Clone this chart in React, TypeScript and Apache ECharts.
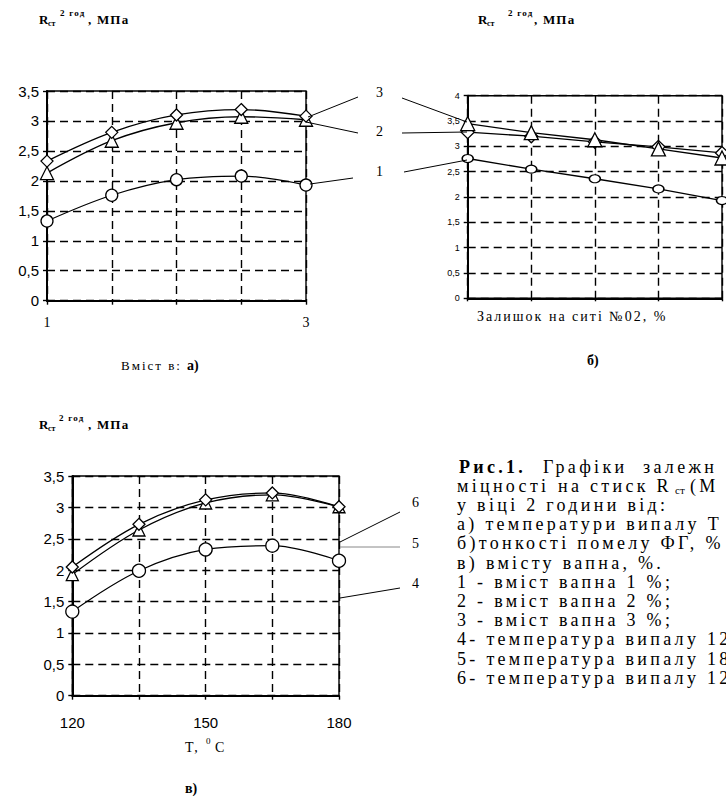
import React, { useEffect, useRef } from 'react';
import * as echarts from 'echarts';

// ---- Chart а) : lime content
const limeContent = [1, 1.5, 2, 2.5, 3];
const limeTickLabels = ['1', '3'];
const aCircle = [1.33, 1.76, 2.02, 2.08, 1.93];
const aTriangle = [2.13, 2.67, 2.97, 3.07, 3.02];
const aDiamond = [2.33, 2.81, 3.1, 3.19, 3.08];

// ---- Chart б) : residue on sieve
const sievePoints = [1, 2, 3, 4, 5];
const bCircle = [2.76, 2.55, 2.36, 2.16, 1.93];
const bDiamond = [3.28, 3.2, 3.09, 2.99, 2.87];
const bTriangle = [3.45, 3.27, 3.13, 2.95, 2.77];

// ---- Chart в) : firing temperature
const temperature = [120, 135, 150, 165, 180];
const tempTickLabels = ['120', '150', '180'];
const vCircle = [1.34, 1.99, 2.33, 2.39, 2.15];
const vTriangle = [1.93, 2.64, 3.07, 3.2, 3.01];
const vDiamond = [2.05, 2.73, 3.12, 3.23, 3.01];

const curveLabels = ['3', '2', '1'];
const tempCurveLabels = ['6', '5', '4'];

const captionLines = [
  'у віці 2 години від:',
  'а) температури випалу Т',
  'б)тонкості помелу ФГ, %',
  'в) вмісту вапна, %.',
  '1 - вміст вапна 1 %;',
  '2 - вміст вапна 2 %;',
  '3 - вміст вапна 3 %;',
  '4- температура випалу 12',
  '5- температура випалу 18',
  '6- температура випалу 12',
];

// "spc*" are never-installed fallback names, used only to tag texts for CSS letter-spacing
const SERIF = '"Liberation Serif"';
const CAP = '"Liberation Serif", spcA';
const AXT = '"Liberation Serif", spcB';
const TTL = '"Liberation Serif", spcC';
const SANS = '"Liberation Sans"';

const dash = { color: '#000', type: [8, 5] as any, width: 1.4 };

function T(x: number, y: number, text: string, font: string, extra: any = {}) {
  return {
    type: 'text', x, y, silent: true, z: 100,
    style: { text, font, fill: '#000', textAlign: 'left', textVerticalAlign: 'middle', ...extra },
  };
}
function L(x1: number, y1: number, x2: number, y2: number, color = '#000') {
  return { type: 'line', silent: true, z: 100, shape: { x1, y1, x2, y2 }, style: { stroke: color, lineWidth: 1 } };
}
function title(x: number, y: number, supOff: number, mpaOff: number) {
  return [
    T(x, y, 'R', `bold 13px ${SERIF}`),
    T(x + 9, y + 4, 'ст', `bold 8px ${SERIF}`),
    T(x + supOff, y - 6, '2 год', `bold 9px ${TTL}`),
    T(x + mpaOff, y, ', МПа', `bold 13px ${TTL}`),
  ];
}

function yAxis(gridIndex: number, max: number, fontSize: number) {
  return {
    gridIndex, type: 'value', min: 0, max, interval: 0.5,
    axisLine: { show: true, onZero: false, lineStyle: { color: '#000', width: 2 } },
    axisTick: { show: true, length: 4, lineStyle: { color: '#000', width: 1.4 } },
    axisLabel: {
      color: '#000', fontFamily: SANS, fontSize, margin: 8,
      formatter: (v: number) => String(v).replace('.', ','),
    },
    splitLine: { show: true, lineStyle: dash },
  };
}

function series(idx: number, xs: number[], ys: number[], symbol: string, size: any, smooth: any) {
  return {
    type: 'line', xAxisIndex: idx, yAxisIndex: idx,
    data: xs.map((x, i) => [x, ys[i]]),
    symbol, symbolSize: size, smooth, showSymbol: true,
    lineStyle: { color: '#000', width: 1.3 },
    itemStyle: { color: '#fff', borderColor: '#000', borderWidth: 1.3 },
    emphasis: { disabled: true },
  };
}

function buildOption() {
  const gridBase = { show: true, borderColor: '#000', borderWidth: 1.4, containLabel: false, outerBoundsMode: 'none' };
  const graphics: any[] = [
    ...title(39, 19, 21, 49),
    ...title(478, 19, 30, 56),
    ...title(39, 424, 20, 49),
    // shared curve numbers between charts а and б
    ...curveLabels.map((s, i) => T(376, [92, 131, 171][i], s, `14px ${SERIF}`)),
    L(358, 97, 308, 117), L(306, 122, 358, 133), L(310, 184, 353, 178),
    L(402, 98, 467, 122), L(402, 133, 467, 132), L(404, 172, 467, 160),
    T(121, 365, 'Вміст в:', `13px ${AXT}`),
    T(187, 365, 'а)', `bold 14px ${SERIF}`),
    T(477, 316, 'Залишок на ситі №02, %', `14px ${AXT}`),
    T(587, 360, 'б)', `bold 14px ${SERIF}`),
    // chart в curve numbers
    ...tempCurveLabels.map((s, i) => T(412, [502, 543, 583][i], s, `14px ${SERIF}`)),
    L(400, 512, 340, 542), L(340, 547, 400, 547, '#888'), L(400, 588, 340, 598),
    T(185, 747, 'Т,', `14px ${AXT}`),
    T(206, 741, '0', `9px ${SERIF}`),
    T(215, 747, 'С', `14px ${SERIF}`),
    T(185, 788, 'в)', `bold 14px ${SERIF}`),
    // caption
    T(459, 467, 'Рис.1.', `bold 18px ${CAP}`),
    T(543, 467, 'Графіки', `18px ${CAP}`),
    T(643, 467, 'залежн', `18px ${CAP}`),
    T(457, 486, 'міцності', `18px ${CAP}`),
    T(558, 486, 'на стиск R', `18px ${CAP}`),
    T(675, 490, 'ст', `11px ${SERIF}`),
    T(690, 486, '(М', `18px ${CAP}`),
    ...captionLines.map((s, i) => T(457, 505 + i * 19.2, s, `18px ${CAP}`)),
  ];

  return {
    animation: false,
    backgroundColor: '#fff',
    grid: [
      { ...gridBase, left: 47, top: 91, width: 259, height: 209.7 },
      { ...gridBase, left: 467.7, top: 95.7, width: 254.3, height: 202.6 },
      { ...gridBase, left: 72.3, top: 476, width: 266.7, height: 219.7 },
    ],
    xAxis: [
      {
        gridIndex: 0, type: 'value', min: 1, max: 3, interval: 0.5,
        axisLine: { show: true, onZero: false, lineStyle: { color: '#000', width: 2 } },
        axisTick: { show: true, length: 4, lineStyle: { color: '#000', width: 1.4 } },
        axisLabel: {
          color: '#000', fontFamily: SERIF, fontSize: 14, margin: 15,
          formatter: (v: number) => (v === limeContent[0] ? limeTickLabels[0] : v === limeContent[4] ? limeTickLabels[1] : ''),
        },
        splitLine: { show: true, lineStyle: dash },
      },
      {
        gridIndex: 1, type: 'value', min: 1, max: 5, interval: 1,
        axisLine: { show: true, onZero: false, lineStyle: { color: '#000', width: 2 } },
        axisTick: { show: true, length: 3, lineStyle: { color: '#000', width: 1.4 } },
        axisLabel: { show: false },
        splitLine: { show: true, lineStyle: dash },
      },
      {
        gridIndex: 2, type: 'value', min: 120, max: 180, interval: 15,
        axisLine: { show: true, onZero: false, lineStyle: { color: '#000', width: 2 } },
        axisTick: { show: true, length: 4, lineStyle: { color: '#000', width: 1.4 } },
        axisLabel: {
          color: '#000', fontFamily: SANS, fontSize: 15, margin: 19,
          formatter: (v: number) => (tempTickLabels.includes(String(v)) ? String(v) : ''),
        },
        splitLine: { show: true, lineStyle: dash },
      },
    ],
    yAxis: [yAxis(0, 3.5, 15), yAxis(1, 4, 9), yAxis(2, 3.5, 15)],
    series: [
      series(0, limeContent, aCircle, 'circle', 12, 0.35),
      series(0, limeContent, aTriangle, 'triangle', 13, 0.35),
      series(0, limeContent, aDiamond, 'diamond', 12, 0.35),
      series(1, sievePoints, bCircle, 'circle', [11, 8], false),
      series(1, sievePoints, bDiamond, 'diamond', 13, false),
      series(1, sievePoints, bTriangle, 'triangle', 14, false),
      series(2, temperature, vCircle, 'circle', 13, 0.35),
      series(2, temperature, vTriangle, 'triangle', 12, 0.35),
      series(2, temperature, vDiamond, 'diamond', 12, 0.35),
    ],
    graphic: graphics,
  };
}

const css = `
#fig text[style*="spcA"] { letter-spacing: 3.3px; }
#fig text[style*="spcB"] { letter-spacing: 2px; }
#fig text[style*="spcC"] { letter-spacing: 1.2px; }
`;

export default function App() {
  const ref = useRef<HTMLDivElement>(null);
  useEffect(() => {
    if (!ref.current) return;
    const chart = echarts.init(ref.current, null, { renderer: 'svg' });
    chart.setOption(buildOption() as any);
    return () => chart.dispose();
  }, []);
  return (
    <>
      <style>{css}</style>
      <div
        id="fig"
        ref={ref}
        style={{ position: 'absolute', left: 0, top: 0, width: 726, height: 797, background: '#fff', overflow: 'hidden' }}
      />
    </>
  );
}
